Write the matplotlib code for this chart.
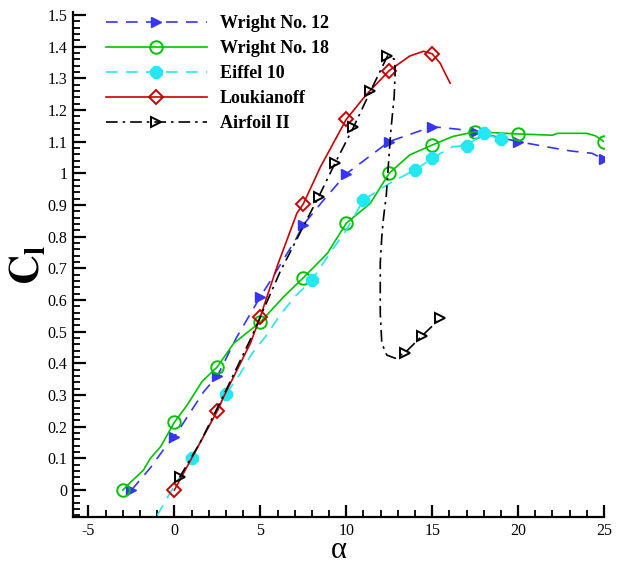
import matplotlib
matplotlib.use("Agg")
import matplotlib.pyplot as plt
from matplotlib.ticker import MultipleLocator, FuncFormatter

plt.rcParams["font.family"] = ["Liberation Serif", "DejaVu Serif"]
plt.rcParams["mathtext.fontset"] = "stix"
plt.rcParams["axes.unicode_minus"] = False

# Wright No. 12
w12_a = [-2.5, -1.4, -0.6, 0, 0.8, 1.7, 2.5, 3.6, 5, 5.7, 7.1, 7.5, 8.6, 10,
         12.5, 15, 16.5, 17.5, 20, 21.9, 23.1, 24.3, 25]
w12_cl = [0.0, 0.07, 0.13, 0.168, 0.235, 0.31, 0.36, 0.48, 0.61, 0.67, 0.795,
          0.837, 0.91, 0.998, 1.1, 1.147, 1.139, 1.13, 1.1, 1.081, 1.07, 1.063, 1.044]
w12_mk_a = [-2.5, 0, 2.5, 5, 7.5, 10, 12.5, 15, 17.5, 20, 25]
w12_mk_cl = [0.0, 0.168, 0.36, 0.61, 0.837, 0.998, 1.1, 1.147, 1.13, 1.1, 1.044]

# Wright No. 18
w18_a = [-3, -2.6, -1.8, -1.4, -0.8, 0, 0.74, 1.6, 2.5, 3.45, 5, 6.36, 7.5, 8.9,
         10, 11.4, 12.5, 13.7, 15, 16.2, 17.5, 20, 22, 22.3, 24, 24.5, 25]
w18_cl = [0.0, 0.022, 0.063, 0.10, 0.137, 0.214, 0.268, 0.342, 0.389, 0.463,
          0.53, 0.61, 0.67, 0.747, 0.842, 0.905, 1.0, 1.058, 1.089, 1.116, 1.131,
          1.124, 1.12, 1.126, 1.126, 1.118, 1.1]
w18_mk_a = [-3, 0, 2.5, 5, 7.5, 10, 12.5, 15, 17.5, 20, 25]
w18_mk_cl = [0.0, 0.214, 0.389, 0.53, 0.67, 0.842, 1.0, 1.089, 1.131, 1.124, 1.1]

# Eiffel 10
eif_a = [-1.0, -0.33, 1.0, 3.0, 3.84, 4.5, 5.3, 6.16, 7.0, 8.0, 9.2, 10.0, 11.0,
         12.7, 14.0, 15.0, 15.5, 16.2, 17.0, 18.0, 19.0]
eif_cl = [-0.08, -0.016, 0.10, 0.303, 0.368, 0.43, 0.484, 0.553, 0.61, 0.663,
          0.76, 0.82, 0.916, 0.974, 1.01, 1.047, 1.063, 1.084, 1.087, 1.126, 1.107]
eif_mk_a = [1.0, 3.0, 8.0, 11.0, 14.0, 15.0, 17.0, 18.0, 19.0]
eif_mk_cl = [0.10, 0.303, 0.663, 0.916, 1.01, 1.047, 1.087, 1.126, 1.107]

# Loukianoff
louk_a = [0, 1.0, 2.5, 2.87, 4.42, 5, 5.97, 7.13, 7.5, 8.5, 10, 11.2, 12.5, 13.7,
          14.5, 15, 15.47, 15.85, 16.05]
louk_cl = [0.0, 0.1, 0.25, 0.295, 0.463, 0.547, 0.705, 0.874, 0.903, 1.02, 1.17,
           1.25, 1.324, 1.37, 1.385, 1.377, 1.347, 1.305, 1.284]
louk_mk_a = [0, 2.5, 5, 7.5, 10, 12.5, 15]
louk_mk_cl = [0.0, 0.25, 0.547, 0.903, 1.17, 1.324, 1.377]

# Airfoil II
af_a = [0.3, 1.5, 2.87, 4.42, 6.16, 7.7, 8.4, 9.36, 10.42, 11.4, 12.4, 12.8,
        12.85, 12.79, 12.6, 12.46, 12.33, 12.17, 12.07, 11.98, 11.98, 12.07,
        12.36, 12.85, 13.43, 14.4, 15.47]
af_cl = [0.04, 0.15, 0.30, 0.475, 0.69, 0.853, 0.926, 1.033, 1.145, 1.258, 1.37,
         1.36, 1.326, 1.242, 1.137, 1.032, 0.93, 0.86, 0.80, 0.716, 0.558, 0.463,
         0.426, 0.416, 0.434, 0.486, 0.542]
af_mk_a = [0.3, 8.4, 9.36, 10.42, 11.4, 12.4, 13.43, 14.4, 15.47]
af_mk_cl = [0.04, 0.926, 1.033, 1.145, 1.258, 1.37, 0.434, 0.486, 0.542]

series = [
    ("Wright No. 12", w12_a, w12_cl, w12_mk_a, w12_mk_cl,
     dict(color="#3535f5", dashes=(7, 5)), dict(marker=">", ms=7, mfc="#3535f5", mec="#3535f5")),
    ("Wright No. 18", w18_a, w18_cl, w18_mk_a, w18_mk_cl,
     dict(color="#00c400", ls="-"), dict(marker="o", ms=9, mfc="none", mec="#00c400", mew=1.4)),
    ("Eiffel 10", eif_a, eif_cl, eif_mk_a, eif_mk_cl,
     dict(color="#22e8f0", dashes=(7, 5)), dict(marker="8", ms=9, mfc="#22e8f0", mec="#22e8f0")),
    ("Loukianoff", louk_a, louk_cl, louk_mk_a, louk_mk_cl,
     dict(color="#cc0000", ls="-"), dict(marker="D", ms=7, mfc="none", mec="#cc0000", mew=1.4)),
    ("Airfoil II", af_a, af_cl, af_mk_a, af_mk_cl,
     dict(color="black", dashes=(7, 3, 1.5, 3)), dict(marker=">", ms=7.5, mfc="none", mec="black", mew=1.4)),
]

fig = plt.figure(figsize=(6.23, 5.65), dpi=100)
ax = fig.add_axes([0.1172, 0.085, 0.8523, 0.8938])

handles, labels = [], []
for label, la, lc, ma, mc, lstyle, mstyle in series:
    ln, = ax.plot(la, lc, lw=1.2, **lstyle)
    mk, = ax.plot(ma, mc, ls="none", **mstyle)
    handles.append((ln, mk))
    labels.append(label)

ax.set_xlim(-5.9, 25)
ax.set_ylim(-0.085, 1.509)
ax.xaxis.set_major_locator(MultipleLocator(5))
ax.xaxis.set_minor_locator(MultipleLocator(1))
ax.yaxis.set_major_locator(MultipleLocator(0.1))
ax.yaxis.set_minor_locator(MultipleLocator(0.02))
ax.yaxis.set_major_formatter(FuncFormatter(lambda v, p: f"{round(v, 1):g}"))

for s in ("top", "right"):
    ax.spines[s].set_visible(False)
for s in ("left", "bottom"):
    ax.spines[s].set_linewidth(1.6)
ax.tick_params(which="major", direction="in", length=9, width=1.6, labelsize=11.5, pad=4)
ax.tick_params(which="minor", direction="in", length=5, width=1.3)

ax.set_xlabel("α", fontsize=22, labelpad=-2)
ax.set_ylabel(r"$\mathbf{C_l}$", fontsize=30, labelpad=0)

leg = ax.legend(handles, labels, loc="upper left", bbox_to_anchor=(0.045, 1.012),
                frameon=False, handlelength=5.6, handletextpad=0.7,
                labelspacing=0.45, borderpad=0.0,
                prop=dict(family=["Liberation Serif"], weight="bold", size=13))

fig.savefig("out.png", dpi=100)
